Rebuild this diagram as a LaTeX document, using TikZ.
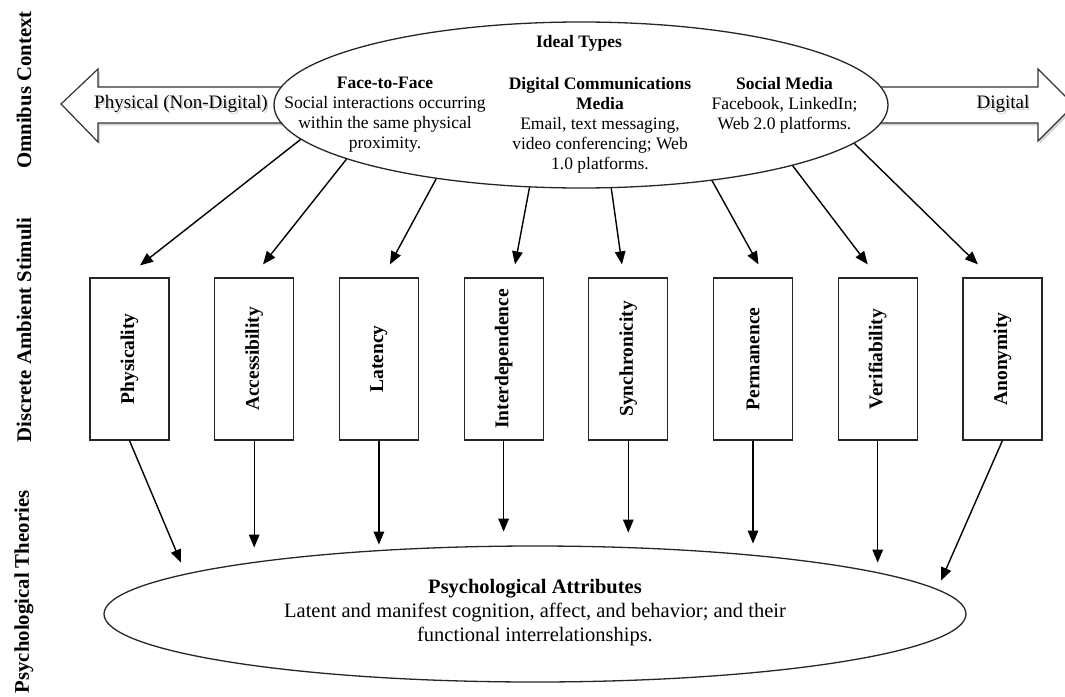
\documentclass[tikz,border=0pt]{standalone}
\usepackage{fontspec}
\setmainfont{Liberation Serif}
\usepackage{graphicx}
\usetikzlibrary{shapes.geometric,arrows.meta,calc}

% type sizes (1pt of the picture = one unit of the grid)
\newcommand{\txtfont}{\fontsize{17.5}{20}\selectfont}
\newcommand{\attrfont}{\fontsize{20.5}{24}\selectfont}
\newcommand{\sidefont}{\fontsize{20.8}{24}\selectfont\bfseries}
\newcommand{\stimfont}{\fontsize{19.5}{22}\selectfont\bfseries}
\newcommand{\dirfont}{\fontsize{19}{22}\selectfont}

\begin{document}
\begin{tikzpicture}[x=1pt,y=-1pt,
  bigarrow/.style={draw=black!80, line width=1.2pt, fill=white, line join=miter},
  arrowshadow/.style={fill=black!40, opacity=0.4},
  dirlabel/.style={font=\dirfont, inner sep=0pt},
  dirshadow/.style={font=\dirfont, inner sep=0pt, text=black!18},
  oval/.style={ellipse, draw=black!85, line width=1.3pt, fill=white, inner sep=0pt},
  ovaltext/.style={font=\txtfont, align=center, inner sep=0pt},
  stimbox/.style={draw=black!85, line width=1.2pt, fill=white, minimum width=79pt,
    minimum height=162pt, inner sep=0pt, font=\stimfont},
  sidelabel/.style={font=\sidefont, rotate=90, inner sep=0pt},
  arr/.style={line width=1.4pt, -{Triangle[length=13pt,width=10.5pt]}}
]
\clip (0,0) rectangle (1065,696);

% soft shadows under the two direction arrows
\begin{scope}[shift={(2,2.5)}]
  \fill[arrowshadow] (61,104) -- (98,69) -- (98,87) -- (300,87) -- (300,123)
    -- (98,123) -- (98,142) -- cycle;
  \fill[arrowshadow] (1074,105) -- (1038,69) -- (1038,87) -- (850,87) -- (850,123)
    -- (1038,123) -- (1038,141) -- cycle;
\end{scope}

% direction arrows of the omnibus context
\draw[bigarrow] (61,104) -- (98,69) -- (98,87) -- (300,87) -- (300,123)
  -- (98,123) -- (98,142) -- cycle;
\draw[bigarrow] (1074,105) -- (1038,69) -- (1038,87) -- (850,87) -- (850,123)
  -- (1038,123) -- (1038,141) -- cycle;

\node[dirshadow] (physshadow) at (182.5,106) {Physical (Non-Digital)};
\node[dirlabel] (phys) at (181,104) {Physical (Non-Digital)};
\node[dirshadow] (digshadow) at (1004.5,106) {Digital};
\node[dirlabel] (dig) at (1003,104) {Digital};

% ideal types
\node[oval, minimum width=614pt, minimum height=166pt] (ideal) at (581,105) {};
\node[ovaltext] (idealtitle) at (579,43) {\bfseries Ideal Types};
\node[ovaltext] (f2f) at (385,115) {\textbf{Face-to-Face}\\Social interactions occurring\\within the same physical\\proximity.};
\node[ovaltext] (dcm) at (600,125) {\textbf{Digital Communications}\\\textbf{Media}\\Email, text messaging,\\video conferencing; Web\\1.0 platforms.};
\node[ovaltext] (sm) at (784.5,105) {\textbf{Social Media}\\Facebook, LinkedIn;\\Web 2.0 platforms.};

% discrete ambient stimuli
\foreach \i/\lab in {1/Physicality,2/Accessibility,3/Latency,4/Interdependence,
                     5/Synchronicity,6/Permanence,7/Verifiability,8/Anonymity}
  \node[stimbox] (b\i) at ({129.5+124.7*(\i-1)},359) {\rotatebox{90}{\lab}};

% psychological attributes
\node[oval, minimum width=862pt, minimum height=136pt] (attr) at (535,614) {};
\node[ovaltext, font=\attrfont] (attrtext) at (535,613)
  {\textbf{Psychological Attributes}\\Latent and manifest cognition, affect, and behavior; and their\\functional interrelationships.};

% side labels
\node[sidelabel] (omni) at (24,90) {Omnibus Context};
\node[sidelabel] (disc) at (24,330) {Discrete Ambient Stimuli};
\node[sidelabel] (theo) at (24,592) {Psychological Theories};

% ideal types -> stimuli
\draw[arr] (ideal.187.3) -- ($(b1.north)+(10.5,-12)$);
\draw[arr] (ideal.193.9) -- ($(b2.north)+(8.8,-13)$);
\draw[arr] (ideal.207.7) -- ($(b3.north)+(11,-13)$);
\draw[arr] (ideal.238.9) -- ($(b4.north)+(11.4,-13)$);
\draw[arr] (ideal.290.5) -- ($(b5.north)+(-6.3,-13)$);
\draw[arr] (ideal.330.5) -- ($(b6.north)+(5.5,-13)$);
\draw[arr] (ideal.344.4) -- ($(b7.north)+(-10,-13)$);
\draw[arr] (ideal.352.2) -- ($(b8.north)+(-24.5,-13)$);

% stimuli -> psychological attributes
\draw[arr] (b1.south) -- ++(51.5,122);
\draw[arr] (b2.south) -- ++(0,107);
\draw[arr] (b3.south) -- ++(0,104);
\draw[arr] (b4.south) -- ++(0,91);
\draw[arr] (b5.south) -- ++(0,92);
\draw[arr] (b6.south) -- ++(0,103);
\draw[arr] (b7.south) -- ++(0,122);
\draw[arr] (b8.south) -- ++(-61.4,140);
\end{tikzpicture}
\end{document}
